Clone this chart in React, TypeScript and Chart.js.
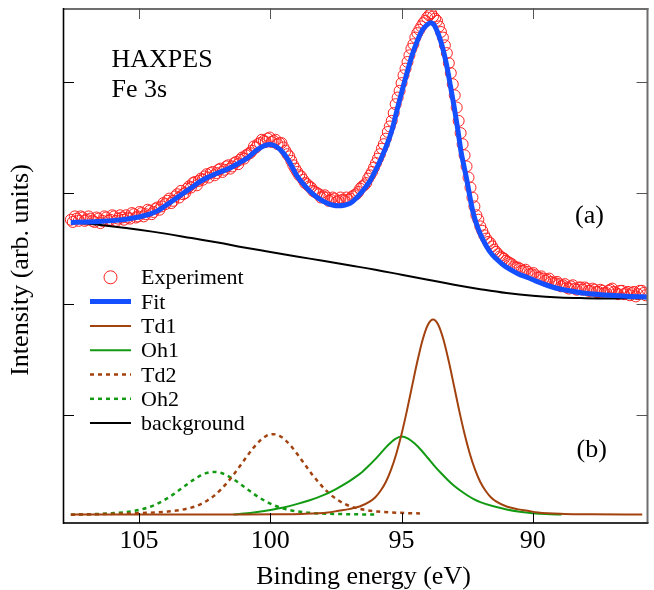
import React, { useEffect, useRef } from "react";
import { Chart, registerables } from "chart.js";

Chart.register(...registerables);

// ---------- data (binding energy in eV, intensity in arb. units) ----------
const expEnergy = [
  107.6, 107.45, 107.3, 107.15, 107.0, 106.85, 106.7, 106.55, 106.4, 106.25,
  106.1, 105.95, 105.8, 105.65, 105.5, 105.35, 105.2, 105.05, 104.9, 104.75,
  104.6, 104.45, 104.3, 104.15, 104.0, 103.85, 103.7, 103.55, 103.4, 103.25,
  103.1, 102.95, 102.8, 102.65, 102.5, 102.35, 102.2, 102.05, 101.9, 101.75,
  101.6, 101.45, 101.3, 101.15, 101.0, 100.85, 100.7, 100.55, 100.4, 100.25,
  100.1, 99.95, 99.8, 99.65, 99.5, 99.35, 99.2, 99.05, 98.9, 98.75,
  98.6, 98.45, 98.3, 98.15, 98.0, 97.85, 97.7, 97.55, 97.4, 97.25,
  97.1, 96.95, 96.8, 96.65, 96.5, 96.35, 96.2, 96.05, 95.9, 95.75,
  95.6, 95.45, 95.3, 95.15, 95.0, 94.85, 94.7, 94.55, 94.4, 94.25,
  94.1, 93.95, 93.8, 93.65, 93.5, 93.35, 93.2, 93.05, 92.9, 92.75,
  92.6, 92.45, 92.3, 92.15, 92.0, 91.85, 91.7, 91.55, 91.4, 91.25,
  91.1, 90.95, 90.8, 90.65, 90.5, 90.35, 90.2, 90.05, 89.9, 89.75,
  89.6, 89.45, 89.3, 89.15, 89.0, 88.85, 88.7, 88.55, 88.4, 88.25,
  88.1, 87.95, 87.8, 87.65, 87.5, 87.35, 87.2, 87.05, 86.9, 86.75,
  86.6, 86.45, 86.3, 86.15, 86.0, 85.85, 85.7,
];
const expIntensity = [
  2.76, 2.79, 2.75, 2.78, 2.76, 2.77, 2.74, 2.77, 2.75, 2.78,
  2.76, 2.79, 2.77, 2.78, 2.8, 2.77, 2.81, 2.79, 2.82, 2.81,
  2.84, 2.83, 2.87, 2.88, 2.9, 2.95, 2.93, 2.99, 3.02, 3.0,
  3.06, 3.09, 3.07, 3.13, 3.15, 3.14, 3.19, 3.18, 3.22, 3.21,
  3.25, 3.24, 3.28, 3.3, 3.31, 3.35, 3.38, 3.41, 3.45, 3.47,
  3.49, 3.46, 3.48, 3.45, 3.41, 3.35, 3.29, 3.22, 3.16, 3.12,
  3.08, 3.05, 3.01, 2.99, 2.97, 2.96, 2.94, 2.95, 2.93, 2.94,
  2.96, 2.95, 2.98, 3.01, 3.06, 3.09, 3.16, 3.23, 3.31, 3.4,
  3.49, 3.6, 3.72, 3.86, 3.99, 4.12, 4.24, 4.34, 4.44, 4.5,
  4.55, 4.6, 4.59, 4.55, 4.45, 4.33, 4.17, 3.98, 3.77, 3.54,
  3.34, 3.14, 2.96, 2.8, 2.7, 2.62, 2.56, 2.52, 2.47, 2.43,
  2.41, 2.38, 2.36, 2.33, 2.32, 2.3, 2.29, 2.27, 2.26, 2.24,
  2.23, 2.22, 2.2, 2.19, 2.18, 2.17, 2.15, 2.16, 2.14, 2.15,
  2.13, 2.14, 2.12, 2.13, 2.11, 2.12, 2.1, 2.13, 2.11, 2.09,
  2.12, 2.1, 2.08, 2.11, 2.09, 2.12, 2.08,
];
// second (interleaved) scan of the same spectrum
const expEnergyMid = [
  107.525, 107.375, 107.225, 107.075, 106.925, 106.775, 106.625, 106.475, 106.325, 106.175,
  106.025, 105.875, 105.725, 105.575, 105.425, 105.275, 105.125, 104.975, 104.825, 104.675,
  104.525, 104.375, 104.225, 104.075, 103.925, 103.775, 103.625, 103.475, 103.325, 103.175,
  103.025, 102.875, 102.725, 102.575, 102.425, 102.275, 102.125, 101.975, 101.825, 101.675,
  101.525, 101.375, 101.225, 101.075, 100.925, 100.775, 100.625, 100.475, 100.325, 100.175,
  100.025, 99.875, 99.725, 99.575, 99.425, 99.275, 99.125, 98.975, 98.825, 98.675,
  98.525, 98.375, 98.225, 98.075, 97.925, 97.775, 97.625, 97.475, 97.325, 97.175,
  97.025, 96.875, 96.725, 96.575, 96.425, 96.275, 96.125, 95.975, 95.825, 95.675,
  95.525, 95.375, 95.225, 95.075, 94.925, 94.775, 94.625, 94.475, 94.325, 94.175,
  94.025, 93.875, 93.725, 93.575, 93.425, 93.275, 93.125, 92.975, 92.825, 92.675,
  92.525, 92.375, 92.225, 92.075, 91.925, 91.775, 91.625, 91.475, 91.325, 91.175,
  91.025, 90.875, 90.725, 90.575, 90.425, 90.275, 90.125, 89.975, 89.825, 89.675,
  89.525, 89.375, 89.225, 89.075, 88.925, 88.775, 88.625, 88.475, 88.325, 88.175,
  88.025, 87.875, 87.725, 87.575, 87.425, 87.275, 87.125, 86.975, 86.825, 86.675,
  86.525, 86.375, 86.225, 86.075, 85.925, 85.775,
];
const expIntensityMid = [
  2.74, 2.77, 2.79, 2.75, 2.79, 2.75, 2.78, 2.73, 2.79, 2.75,
  2.8, 2.75, 2.8, 2.76, 2.78, 2.82, 2.78, 2.83, 2.79, 2.85,
  2.81, 2.86, 2.85, 2.91, 2.93, 2.91, 2.97, 2.96, 2.99, 3.04,
  3.05, 3.1, 3.11, 3.12, 3.17, 3.18, 3.16, 3.21, 3.19, 3.24,
  3.22, 3.27, 3.26, 3.32, 3.34, 3.36, 3.42, 3.44, 3.48, 3.46,
  3.5, 3.47, 3.44, 3.45, 3.38, 3.33, 3.25, 3.19, 3.15, 3.09,
  3.06, 3.02, 3.0, 2.96, 2.98, 2.93, 2.96, 2.92, 2.96, 2.93,
  2.94, 2.97, 2.99, 3.04, 3.07, 3.13, 3.19, 3.27, 3.35, 3.44,
  3.55, 3.65, 3.8, 3.92, 4.06, 4.18, 4.3, 4.4, 4.47, 4.53,
  4.58, 4.62, 4.57, 4.5, 4.4, 4.26, 4.08, 3.88, 3.65, 3.44,
  3.24, 3.05, 2.88, 2.76, 2.66, 2.59, 2.55, 2.49, 2.45, 2.42,
  2.39, 2.37, 2.34, 2.33, 2.3, 2.31, 2.27, 2.28, 2.24, 2.25,
  2.21, 2.23, 2.19, 2.2, 2.16, 2.18, 2.14, 2.17, 2.13, 2.15,
  2.15, 2.12, 2.14, 2.11, 2.13, 2.1, 2.12, 2.14, 2.1, 2.12,
  2.09, 2.11, 2.1, 2.07, 2.12, 2.1,
];

const fitEnergy = [
  107.6, 107.0, 106.5, 106.0, 105.5, 105.0, 104.6, 104.3, 104.0, 103.7,
  103.4, 103.0, 102.7, 102.4, 102.1, 101.8, 101.5, 101.2, 100.85, 100.5,
  100.2, 100.0, 99.75, 99.5, 99.25, 99.0, 98.7, 98.45, 98.15, 97.85,
  97.6, 97.4, 97.2, 96.95, 96.7, 96.45, 96.2, 96.0, 95.8, 95.55,
  95.35, 95.15, 94.95, 94.8, 94.6, 94.4, 94.2, 94.05, 93.9, 93.75,
  93.6, 93.45, 93.3, 93.15, 93.0, 92.85, 92.74, 92.62, 92.5, 92.4,
  92.29, 92.1, 91.91, 91.66, 91.4, 91.16, 90.85, 90.53, 90.2, 89.9,
  89.2, 88.6, 88.1, 87.4, 86.9, 86.3, 85.63,
];
const fitIntensity = [
  2.735, 2.74, 2.745, 2.752, 2.765, 2.785, 2.81, 2.84, 2.886, 2.935,
  2.985, 3.05, 3.1, 3.14, 3.172, 3.2, 3.23, 3.27, 3.32, 3.39,
  3.43, 3.437, 3.415, 3.36, 3.27, 3.16, 3.07, 3.006, 2.95, 2.91,
  2.89, 2.885, 2.89, 2.91, 2.96, 3.03, 3.11, 3.2, 3.3, 3.44,
  3.58, 3.77, 3.95, 4.076, 4.24, 4.37, 4.47, 4.51, 4.534, 4.51,
  4.43, 4.32, 4.17, 3.98, 3.78, 3.56, 3.38, 3.24, 3.1, 2.97,
  2.84, 2.69, 2.585, 2.48, 2.41, 2.36, 2.31, 2.27, 2.24, 2.21,
  2.15, 2.12, 2.1, 2.085, 2.078, 2.07, 2.064,
];

const bgEnergy = [
  107.6, 107.0, 106.0, 105.0, 104.0, 103.0, 102.0, 101.0, 100.0, 99.0,
  98.0, 97.0, 96.0, 95.0, 94.0, 93.0, 92.0, 91.0, 90.0, 89.0,
  88.0, 87.0, 86.0, 85.63,
];
const bgIntensity = [
  2.735, 2.725, 2.7, 2.67, 2.635, 2.595, 2.555, 2.51, 2.47, 2.43,
  2.39, 2.35, 2.31, 2.265, 2.22, 2.175, 2.135, 2.1, 2.075, 2.06,
  2.054, 2.052, 2.053, 2.054,
];

const td1Energy = [
  107.6, 104.0, 101.0, 99.8, 98.8, 97.8, 97.4, 97.0, 96.6, 96.2,
  96.0, 95.8, 95.6, 95.4, 95.2, 95.0, 94.8, 94.6, 94.4, 94.2,
  94.0, 93.8, 93.6, 93.4, 93.2, 93.0, 92.8, 92.6, 92.4, 92.2,
  92.0, 91.8, 91.6, 91.4, 91.0, 90.6, 90.2, 89.8, 88.8, 87.8,
  85.83,
];
const td1Intensity = [
  0.106, 0.106, 0.106, 0.108, 0.112, 0.125, 0.14, 0.155, 0.178, 0.224,
  0.262, 0.32, 0.399, 0.51, 0.654, 0.831, 1.037, 1.262, 1.483, 1.678,
  1.813, 1.862, 1.813, 1.678, 1.483, 1.262, 1.037, 0.831, 0.654, 0.51,
  0.399, 0.32, 0.262, 0.224, 0.178, 0.155, 0.14, 0.125, 0.112, 0.108,
  0.106,
];

const oh1Energy = [
  101.4, 101.0, 100.5, 100.0, 99.5, 99.0, 98.5, 98.0, 97.5, 97.0,
  96.75, 96.5, 96.25, 96.0, 95.75, 95.5, 95.25, 95.0, 94.75, 94.5,
  94.25, 94.0, 93.75, 93.5, 93.25, 93.0, 92.75, 92.5, 92.25, 92.0,
  91.5, 91.0, 90.5, 90.0, 89.5, 88.9,
];
const oh1Intensity = [
  0.106, 0.115, 0.13, 0.148, 0.17, 0.2, 0.235, 0.278, 0.336, 0.405,
  0.445, 0.49, 0.545, 0.605, 0.67, 0.735, 0.785, 0.808, 0.79, 0.745,
  0.685, 0.615, 0.545, 0.48, 0.42, 0.365, 0.32, 0.28, 0.245, 0.218,
  0.18, 0.152, 0.132, 0.118, 0.11, 0.106,
];

const td2Energy = [
  107.6, 105.9, 104.9, 103.9, 103.4, 102.9, 102.65, 102.4, 102.15, 101.9,
  101.65, 101.4, 101.15, 100.9, 100.65, 100.4, 100.15, 99.9, 99.65, 99.4,
  99.15, 98.9, 98.65, 98.4, 98.15, 97.9, 97.65, 97.4, 97.15, 96.9,
  96.4, 95.9, 94.9, 94.3,
];
const td2Intensity = [
  0.104, 0.113, 0.12, 0.133, 0.148, 0.176, 0.2, 0.233, 0.274, 0.328,
  0.392, 0.465, 0.545, 0.627, 0.705, 0.77, 0.815, 0.83, 0.815, 0.77,
  0.705, 0.627, 0.545, 0.465, 0.392, 0.328, 0.274, 0.233, 0.2, 0.176,
  0.148, 0.133, 0.12, 0.116,
];

const oh2Energy = [
  107.6, 106.15, 105.65, 105.15, 104.9, 104.65, 104.4, 104.15, 103.9, 103.65,
  103.4, 103.15, 102.9, 102.65, 102.4, 102.15, 101.9, 101.65, 101.4, 101.15,
  100.9, 100.65, 100.4, 100.15, 99.9, 99.65, 99.4, 99.15, 98.65, 98.15,
  97.15, 96.0,
];
const oh2Intensity = [
  0.105, 0.116, 0.125, 0.141, 0.153, 0.171, 0.193, 0.222, 0.256, 0.295,
  0.338, 0.382, 0.423, 0.458, 0.482, 0.49, 0.482, 0.458, 0.423, 0.382,
  0.338, 0.295, 0.256, 0.222, 0.193, 0.171, 0.153, 0.141, 0.125, 0.116,
  0.11, 0.106,
];

const xTickValues = [105, 100, 95, 90];
const yTickValues = [1, 2, 3, 4];
const seriesNames = ["Experiment", "Fit", "Td1", "Oh1", "Td2", "Oh2", "background"];

// ---------- helpers ----------
const toPoints = (xs: number[], ys: number[]) => xs.map((x, i) => ({ x, y: ys[i] }));

const SERIF = '"Liberation Serif", "Times New Roman", serif';
const RED = "#ff2020";
const BLUE = "#1450ff";
const BROWN = "#a2420e";
const GREEN = "#139a13";

const decorPlugin = {
  id: "decor",
  afterDraw(chart: any) {
    const { ctx, chartArea: a, scales } = chart;
    const xs = scales.x;
    const ys = scales.y;
    const seg = (x1: number, y1: number, x2: number, y2: number) => {
      ctx.beginPath();
      ctx.moveTo(x1, y1);
      ctx.lineTo(x2, y2);
      ctx.stroke();
    };
    ctx.save();
    ctx.setLineDash([]);
    // frame
    ctx.strokeStyle = "#6e6e6e";
    ctx.lineWidth = 2;
    seg(a.left, a.top + 1, a.right + 1, a.top + 1);
    seg(a.right, a.top, a.right, a.bottom);
    ctx.strokeStyle = "#333";
    ctx.lineWidth = 2;
    seg(a.left, a.bottom, a.right + 1, a.bottom);
    ctx.strokeStyle = "#000";
    ctx.lineWidth = 1.6;
    seg(a.left + 0.5, a.top, a.left + 0.5, a.bottom + 1);

    // inward ticks
    ctx.lineWidth = 1;
    xTickValues.forEach((v) => {
      const px = Math.round(xs.getPixelForValue(v)) + 0.5;
      ctx.strokeStyle = "#000";
      seg(px, a.bottom, px, a.bottom - 10);
      ctx.strokeStyle = "#555";
      seg(px, a.top, px, a.top + 11);
    });
    yTickValues.forEach((v) => {
      const py = Math.round(ys.getPixelForValue(v)) + 0.5;
      ctx.strokeStyle = "#000";
      seg(a.left, py, a.left + 11, py);
      ctx.strokeStyle = "#555";
      seg(a.right, py, a.right - 11, py);
    });

    // annotations
    ctx.fillStyle = "#000";
    ctx.textBaseline = "alphabetic";
    ctx.textAlign = "left";
    ctx.font = `26px ${SERIF}`;
    ctx.fillText("HAXPES", a.left + 48.5, 66.5);
    ctx.fillText("Fe 3s", a.left + 48.5, 96.5);
    ctx.fillText("(a)", a.left + 512, 223);
    ctx.fillText("(b)", a.left + 513.5, 457);

    // axis titles
    ctx.textAlign = "center";
    ctx.fillText("Binding energy (eV)", 363.5, 584);
    ctx.save();
    ctx.translate(21, 270);
    ctx.rotate(-Math.PI / 2);
    ctx.textBaseline = "middle";
    ctx.fillText("Intensity (arb. units)", 0, 0);
    ctx.restore();

    // legend
    const lx0 = a.left + 27;
    const lx1 = a.left + 68;
    const tx = a.left + 78;
    const rowY0 = 277.3;
    const rowStep = 24.3;
    ctx.font = `22px ${SERIF}`;
    ctx.textAlign = "left";
    ctx.textBaseline = "alphabetic";
    const dsets = chart.data.datasets;
    seriesNames.forEach((name, i) => {
      const cy = rowY0 + i * rowStep;
      const ds = dsets[i];
      if (i === 0) {
        ctx.setLineDash([]);
        ctx.strokeStyle = ds.borderColor;
        ctx.lineWidth = 1;
        ctx.beginPath();
        ctx.arc((lx0 + lx1) / 2, cy, 6.5, 0, Math.PI * 2);
        ctx.stroke();
      } else {
        ctx.setLineDash(ds.borderDash || []);
        ctx.strokeStyle = ds.borderColor;
        ctx.lineWidth = ds.borderWidth;
        seg(lx0, cy, lx1, cy);
      }
      ctx.setLineDash([]);
      ctx.fillStyle = "#000";
      ctx.fillText(name, tx, cy + 7);
    });
    ctx.restore();
  },
};

export default function App() {
  const canvasRef = useRef<HTMLCanvasElement | null>(null);

  useEffect(() => {
    document.body.style.margin = "0";
    const canvas = canvasRef.current;
    if (!canvas) return;
    const lineBase = {
      type: "line" as const,
      pointRadius: 0,
      pointHoverRadius: 0,
      fill: false,
      cubicInterpolationMode: "monotone" as const,
    };
    const chart = new Chart(canvas, {
      type: "line",
      data: {
        datasets: [
          {
            label: seriesNames[0],
            data: [...toPoints(expEnergy, expIntensity), ...toPoints(expEnergyMid, expIntensityMid)],
            showLine: false,
            pointRadius: 5.5,
            pointHoverRadius: 5.5,
            pointStyle: "circle",
            pointBorderWidth: 1,
            borderColor: RED,
            pointBorderColor: RED,
            backgroundColor: "rgba(0,0,0,0)",
            pointBackgroundColor: "rgba(0,0,0,0)",
            order: 2,
          } as any,
          { ...lineBase, label: seriesNames[1], data: toPoints(fitEnergy, fitIntensity), borderColor: BLUE, borderWidth: 5, order: 0 },
          { ...lineBase, label: seriesNames[2], data: toPoints(td1Energy, td1Intensity), borderColor: BROWN, borderWidth: 2, order: 3 },
          { ...lineBase, label: seriesNames[3], data: toPoints(oh1Energy, oh1Intensity), borderColor: GREEN, borderWidth: 2, order: 4 },
          { ...lineBase, label: seriesNames[4], data: toPoints(td2Energy, td2Intensity), borderColor: BROWN, borderWidth: 2.5, borderDash: [4, 4], order: 5 },
          { ...lineBase, label: seriesNames[5], data: toPoints(oh2Energy, oh2Intensity), borderColor: GREEN, borderWidth: 2.5, borderDash: [4, 4], order: 6 },
          { ...lineBase, label: seriesNames[6], data: toPoints(bgEnergy, bgIntensity), borderColor: "#000", borderWidth: 2, order: 1, cubicInterpolationMode: "default", tension: 0.4 },
        ],
      },
      options: {
        responsive: false,
        maintainAspectRatio: false,
        animation: false,
        devicePixelRatio: 1,
        events: [],
        layout: { padding: { left: 63, right: 1, top: 8, bottom: 29.8 } },
        plugins: {
          legend: { display: false },
          tooltip: { enabled: false },
        },
        scales: {
          x: {
            type: "linear",
            min: 85.63,
            max: 107.9,
            reverse: true,
            grid: { display: false, drawTicks: false },
            border: { display: false },
            afterBuildTicks: (scale: any) => {
              scale.ticks = xTickValues.map((v) => ({ value: v }));
            },
            ticks: {
              color: "#000",
              padding: 3,
              autoSkip: false,
              maxRotation: 0,
              font: { family: SERIF, size: 26 },
              callback: (v: any) => String(v),
            },
          },
          y: {
            type: "linear",
            display: false,
            min: 0.03,
            max: 4.666,
          },
        },
      },
      plugins: [decorPlugin],
    });
    return () => chart.destroy();
  }, []);

  return (
    <div style={{ width: 654, height: 590 }}>
      <canvas ref={canvasRef} width={654} height={590} style={{ display: "block", width: 654, height: 590 }} />
    </div>
  );
}
